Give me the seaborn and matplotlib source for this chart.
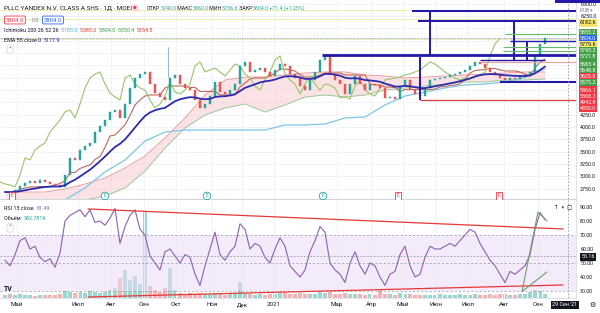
import numpy as np
import pandas as pd
import matplotlib
matplotlib.use("Agg")
import matplotlib.pyplot as plt
from matplotlib.patches import Rectangle
import seaborn as sns

sns.set_style("white")
plt.rcParams['font.family'] = ['Roboto', 'DejaVu Sans']

W, H = 600, 313

# values, one sample every ~3 sessions
closes = [2680, 2660, 2721, 2802, 2863, 2904, 2863, 2924, 2883, 2843,
          2823, 2782, 3026, 3371, 3330, 3533, 3614, 3675, 3898, 4020,
          4142, 4305, 4345, 4183, 4467, 4792, 4995, 5076, 5117, 4873,
          4690, 4609, 4548, 4995, 5056, 4873, 4792, 4751, 4548, 4386,
          4467, 4629, 4914, 4711, 4670, 4751, 4873, 5238, 5320, 5117,
          5157, 5198, 5117, 5035, 5157, 5279, 5238, 5076, 4995, 4832,
          4751, 4954, 5117, 5360, 5441, 5076, 4954, 4873, 4670, 4873,
          5035, 4873, 4751, 4873, 4851, 4792, 4589, 4610, 4568, 4832,
          4954, 4751, 4670, 4629, 4792, 4954, 4974, 4995, 5015, 5056,
          5076, 5117, 5157, 5238, 5320, 5279, 5198, 5117, 5056, 4995,
          4954, 4995, 4974, 5015, 5056, 5117, 5441, 5685, 5804]

rsi13 = [52, 48, 56, 66, 68, 60, 62, 54, 51, 53,
         47, 57, 80, 84, 86, 88, 83, 88, 79, 80,
         77, 82, 89, 64, 76, 84, 88, 74, 70, 55,
         50, 45, 58, 60, 55, 50, 56, 54, 42, 34,
         48, 60, 72, 56, 52, 58, 62, 78, 74, 60,
         64, 62, 54, 50, 60, 68, 62, 48, 44, 40,
         45, 58, 66, 76, 72, 50, 45, 42, 36, 50,
         58, 48, 42, 50, 48, 40, 34, 42, 44, 56,
         62, 48, 40, 42, 54, 62, 60, 60, 62, 64,
         62, 66, 70, 74, 72, 64, 58, 52, 48, 42,
         36, 44, 42, 45, 48, 56, 74, 86, 81]

volume_k = [300, 400, 300, 400, 300, 300, 200, 300, 300, 300,
            300, 400, 700, 600, 500, 600, 500, 700, 600, 500,
            600, 800, 1000, 2000, 2800, 1800, 2200, 1400, 8600, 1200,
            800, 600, 1000, 3000, 800, 500, 400, 500, 400, 500,
            400, 400, 500, 400, 300, 400, 400, 1600, 500, 400,
            300, 400, 300, 400, 400, 500, 500, 400, 400, 500,
            400, 400, 400, 600, 500, 600, 400, 400, 500, 400,
            400, 400, 300, 400, 300, 800, 400, 400, 300, 500,
            400, 400, 300, 300, 300, 300, 300, 400, 300, 300,
            300, 400, 300, 300, 400, 300, 300, 400, 300, 400,
            400, 300, 300, 400, 400, 600, 800, 700, 383]

# ichimoku lines that depend on history before the window (every 4th sample)
cloud_idx = list(range(0, 109, 4))
conversion = [np.nan, np.nan, np.nan, 2518, 2762, 3087, 3330, 3716, 3898, 3939,
              3939, 3939, 3939, 3939, 4041, 4041, 4061, 4183, 4203, 4447,
              4629, 4711, 4792, 4853, 4873, 4913, 5004, 5185]
lead_top = [2680, 2680, 2680, 2741, 2843, 2965, 3168, 3411, 3777, 4183,
            4650, 4954, 5015, 5015, 5056, 5096, 5117, 5117, 5056, 5035,
            4995, 5015, 5035, 5056, 5076, 5096, 5117, 5117]
lead_bottom = [2518, 2518, 2518, 2518, 2518, 2599, 2762, 3107, 3574, 3980,
               4244, 4386, 4467, 4305, 4447, 4609, 4650, 4609, 4650, 4751,
               4792, 4832, 4873, 4914, 4914, 4954, 4954, 4974]

month_labels = ['Май', 'Июл', 'Авг', 'Сен', 'Окт', 'Ноя', 'Дек', '2021',
                'Мар', 'Апр', 'Май', 'Июн', 'Июл', 'Авг', 'Сен']
month_px = [17, 78, 111, 144, 176, 212, 242, 274, 337, 371, 403, 436, 468, 504, 538]

price_ticks = [2750, 3000, 3250, 3500, 3750, 4000, 4250, 6250, 6500]
rsi_ticks = [30, 40, 50, 60, 70, 80, 90]

# price tags on the right scale (text, fill, row in px)
tag_text = ['6182.6', '5855.2', '5804.0', '5779.6', '5743.2', '5721.8', '5683.4',
            '5648.8', '5605.8', '5575.2', '5466.1', '5368.2', '4942.8', '4550.0']
tag_fill = ['#f5e56b', '#43a047', '#2962ff', '#f5e56b', '#43a047', '#43a047', '#43a047',
            '#43a047', '#f23645', '#43a047', '#f23645', '#f23645', '#f23645', '#f23645']
tag_row = [23, 33, 39, 45, 51, 57, 64, 70, 77, 83, 90, 96, 102, 108]

# user drawings
navy_levels = [6355, 6152, 5462, 5746, 5360, 4914]
navy_from = [412, 418, 322, 510, 480, 500]
navy_to = [576, 576, 576, 576, 545, 576]
navy_lw = [1.5, 1.5, 2.0, 1.0, 1.0, 1.5]
navy_vx = [430, 420, 514, 527]
navy_vlow = [5462, 4548, 5360, 5360]
navy_vhigh = [6355, 5421, 6152, 5746]


def col(px):
    return (px - 5) / 5.0


def fx(px):
    return px / W


def fy(py):
    return 1 - py / H


df = pd.DataFrame({'i': np.arange(len(closes)), 'close': closes,
                   'rsi': rsi13, 'vol': volume_k})
df['open'] = df['close'].shift(1).fillna(df['close'])
df['up'] = df['close'] >= df['open']
hi = df[['open', 'close']].max(axis=1)
lo = df[['open', 'close']].min(axis=1)
df['base'] = (hi.rolling(8, min_periods=1).max() + lo.rolling(8, min_periods=1).min()) / 2
df['ema'] = df['close'].ewm(span=17, adjust=False).mean()

fig = plt.figure(figsize=(W / 100, H / 100), dpi=100)
ax = fig.add_axes([0, fy(199), fx(576), 199 / H])
axv = fig.add_axes([0, fy(298), fx(576), 98 / H], sharex=ax)
axr = fig.add_axes([0, fy(298), fx(576), 98 / H], sharex=ax)
axr.patch.set_alpha(0)

x0, x1 = col(0), col(576)
ax.set_xlim(x0, x1)
ax.set_ylim(2538, 6578)
axr.set_ylim(25, 95)
axv.set_ylim(0, 9800)

grid_c = '#f0f3fa'
for p in month_px:
    ax.axvline(col(p), color=grid_c, lw=0.7, zorder=0)
    axr.axvline(col(p), color=grid_c, lw=0.7, zorder=0)
for v in range(2750, 6750, 250):
    ax.axhline(v, color=grid_c, lw=0.7, zorder=0)

# faint full-width levels
for v in [6375, 6182.6, 5779.6]:
    ax.axhline(v, color='#efe9a8', lw=0.7, zorder=1)
ax.axhline(5804, color='#2962ff', lw=0.5, ls=(0, (1, 1.5)), zorder=1)

# ichimoku cloud
ax.fill_between(cloud_idx, lead_bottom, lead_top, color='#f7c3c6', alpha=0.45, lw=0, zorder=1)
ax.plot(cloud_idx, lead_top, color='#e89090', lw=0.6, zorder=2)
ax.plot(cloud_idx, lead_bottom, color='#8cc98f', lw=0.6, zorder=2)
ax.plot(cloud_idx, conversion, color='#7cc6e6', lw=0.9, zorder=2)
sns.lineplot(x=df['i'], y=df['base'], ax=ax, color='#c0675a', lw=0.8, zorder=3)
sns.lineplot(x=df['i'] - 9, y=df['close'], ax=ax, color='#9cc46a', lw=0.8, zorder=3)
sns.lineplot(x=df['i'], y=df['ema'], ax=ax, color='#2b2bb0', lw=1.3, zorder=5)

# candles
colors = np.where(df['up'], '#26a69a', '#ef5350')
ax.bar(df['i'], df['close'] - df['open'], bottom=df['open'], width=0.5,
       color=colors, edgecolor=colors, linewidth=0.3, zorder=4)

# drawings
navy = '#2418a6'
for lv, a, b, w in zip(navy_levels, navy_from, navy_to, navy_lw):
    ax.hlines(lv, col(a), col(b), color=navy, lw=w, zorder=6)
for xv, a, b in zip(navy_vx, navy_vlow, navy_vhigh):
    ax.vlines(col(xv), a, b, color=navy, lw=1.4, zorder=6)
ax.hlines(4548, col(420), x1, color='#e53935', lw=0.9, zorder=6)
ax.hlines(5320, col(480), x1, color='#eea3a3', lw=0.8, zorder=6)
for lv, a in zip([5880, 5624, 5543], [505, 503, 503]):
    ax.hlines(lv, col(a), x1, color='#66bb6a', lw=0.8, zorder=6)
ax.vlines(col(168), 5015, 5624, color='#9bb8d0', lw=0.8, zorder=6)

# event badges along the bottom
for p, c, shape in [(12, '#f23645', 'square'), (105, '#26a69a', 'circle'), (207, '#26a69a', 'circle'),
                    (323, '#26a69a', 'circle'), (398, '#f23645', 'square'), (499, '#f23645', 'square')]:
    ax.text(col(p), 2600, 'E', fontsize=3.6, color=c, ha='center', va='center', zorder=7,
            bbox=dict(boxstyle=shape + ',pad=0.25', fc='white', ec=c, lw=0.6))

# RSI pane
axr.axhspan(30, 70, color='#eadcf6', alpha=0.55, lw=0, zorder=0)
for v in [70, 50, 30]:
    axr.axhline(v, color='#9598a1', lw=0.5, ls=(0, (3, 3)), zorder=1)
vcol = np.where(df['up'], '#26a69a', '#ef5350')
axv.bar(df['i'], df['vol'], width=0.62, color=vcol, alpha=0.45, lw=0)
sns.lineplot(x=df['i'], y=df['rsi'], ax=axr, color='#8e5fb0', lw=0.8, zorder=4)
axr.plot([col(88), col(563)], [88.6, 74.3], color='#e53935', lw=0.9, zorder=5)
axr.plot([col(88), col(563)], [25.7, 34.3], color='#e53935', lw=0.9, zorder=5)
axr.plot([col(522), col(538), col(547)], [29.6, 86.4, 80], color='#6a9f6a', lw=0.8, zorder=5)
axr.plot([col(522), col(547)], [29.6, 43.6], color='#6a9f6a', lw=0.8, zorder=5)

# crosshair
for a in (ax, axr):
    a.axvline(col(568), color='#9598a1', lw=0.6, ls=(0, (2, 2)), zorder=8)
axr.axhline(55.16, color='#9598a1', lw=0.6, ls=(0, (2, 2)), zorder=8)

# axes cosmetics
for a in (ax, axr, axv):
    a.set_xlabel('')
    a.set_ylabel('')
    for s in a.spines.values():
        s.set_visible(False)
axv.set_yticks([])
axv.tick_params(labelbottom=False, length=0)
ax.spines['right'].set_visible(True)
ax.spines['right'].set_color('#e0e3eb')
ax.spines['bottom'].set_visible(True)
ax.spines['bottom'].set_color('#d1d4dc')
axr.spines['right'].set_visible(True)
axr.spines['right'].set_color('#e0e3eb')
axr.spines['bottom'].set_visible(True)
axr.spines['bottom'].set_color('#e0e3eb')

ax.yaxis.tick_right()
ax.set_yticks(price_ticks)
ax.set_yticklabels([f'{v:.1f}' for v in price_ticks])
ax.tick_params(axis='y', length=0, pad=3, labelsize=3.9, labelcolor='#131722')
ax.tick_params(axis='x', labelbottom=False, length=0)

axr.yaxis.tick_right()
axr.set_yticks(rsi_ticks)
axr.set_yticklabels([f'{v:.2f}' for v in rsi_ticks])
axr.tick_params(axis='y', length=0, pad=3, labelsize=3.9, labelcolor='#131722')
axr.set_xticks([col(p) for p in month_px])
axr.set_xticklabels(month_labels)
axr.tick_params(axis='x', length=0, pad=3, labelsize=4.4, labelcolor='#131722')
ax.set_xlim(x0, x1)

# right scale tags
for t, c, r in zip(tag_text, tag_fill, tag_row):
    tc = '#131722' if c == '#f5e56b' else 'white'
    fig.text(fx(588), fy(r), t, ha='center', va='center', fontsize=3.9, color=tc,
             bbox=dict(boxstyle='square,pad=0.2', fc=c, ec='none'))
fig.text(fx(588), fy(257), '55.16', ha='center', va='center', fontsize=3.9, color='white',
         bbox=dict(boxstyle='square,pad=0.2', fc='#131722', ec='none'))
fig.text(fx(586), fy(10), 'RUB ▾', ha='center', va='center', fontsize=3.4, color='#787b86')
fig.patches.append(Rectangle((fx(555), fy(3)), fx(45), 3 / H, transform=fig.transFigure,
                             fc=navy, ec='none'))
fig.text(fx(565), fy(305), "29 Сен '21", ha='center', va='center', fontsize=3.9, color='white',
         bbox=dict(boxstyle='square,pad=0.3', fc='#131722', ec='none'))
fig.text(fx(592), fy(305), '⚙', ha='center', va='center', fontsize=5, color='#131722')
fig.text(fx(563), fy(208), '↑  ×  ▢', ha='center', va='center', fontsize=4, color='#131722')
fig.text(fx(8), fy(289), 'TV', ha='center', va='center', fontsize=5, color='#131722', weight='bold')

renderer = fig.canvas.get_renderer()


def put_parts(x_px, y_px, parts, size=4.6):
    x = x_px
    for text, color in parts:
        t = fig.text(fx(x), fy(y_px), text, fontsize=size, color=color, ha='left', va='center')
        x += t.get_window_extent(renderer=renderer).width


dark = '#131722'
green = '#26a69a'
put_parts(4, 8, [('PLLC YANDEX N.V. CLASS A SHS · 1Д · MOEX', dark)])
fig.text(fx(135), fy(8), '●', fontsize=3, color='#f23645', ha='center', va='center',
         bbox=dict(boxstyle='round,pad=0.3', fc='#fcd5d8', ec='none'))
put_parts(147, 8, [('ОТКР', dark), ('5740.0', green), (' МАКС', dark), ('5860.0', green),
                   (' МИН', dark), ('5736.6', green), (' ЗАКР', dark), ('5804.0', green),
                   (' +71.4 (+1.25%)', green)], size=3.8)
fig.text(fx(15), fy(20), '5804.0', fontsize=4.2, color='#f23645', ha='center', va='center',
         bbox=dict(boxstyle='round,pad=0.25', fc='white', ec='#f23645', lw=0.6))
fig.text(fx(36), fy(20), '0.0', fontsize=4.0, color='#787b86', ha='center', va='center')
fig.text(fx(53), fy(20), '5804.0', fontsize=4.2, color='#2962ff', ha='center', va='center',
         bbox=dict(boxstyle='round,pad=0.25', fc='white', ec='#2962ff', lw=0.6))
put_parts(4, 30, [('Ichimoku 200 26 52 26  ', dark), ('5185.0  ', '#4fb3e0'), ('5385.0  ', '#e53935'),
                  ('5804.0  ', '#43a047'), ('5050.4  ', '#43a047'), ('5154.5', '#e53935')], size=3.9)
put_parts(4, 40, [('EMA 55 close 0  ', dark), ('5177.9', '#2b2bb0')], size=3.9)
fig.text(fx(10), fy(49), '˄', fontsize=4, color=dark, ha='center', va='center',
         bbox=dict(boxstyle='round,pad=0.3', fc='white', ec='#d1d4dc', lw=0.5))
put_parts(4, 209, [('RSI 13 close  ', dark), ('81.49', '#8e5fb0')], size=3.9)
put_parts(4, 218, [('Объём  ', dark), ('382.781K', green)], size=3.9)
fig.text(fx(10), fy(228), '˄', fontsize=4, color=dark, ha='center', va='center',
         bbox=dict(boxstyle='round,pad=0.3', fc='white', ec='#d1d4dc', lw=0.5))

fig.savefig('out.png', dpi=100)
